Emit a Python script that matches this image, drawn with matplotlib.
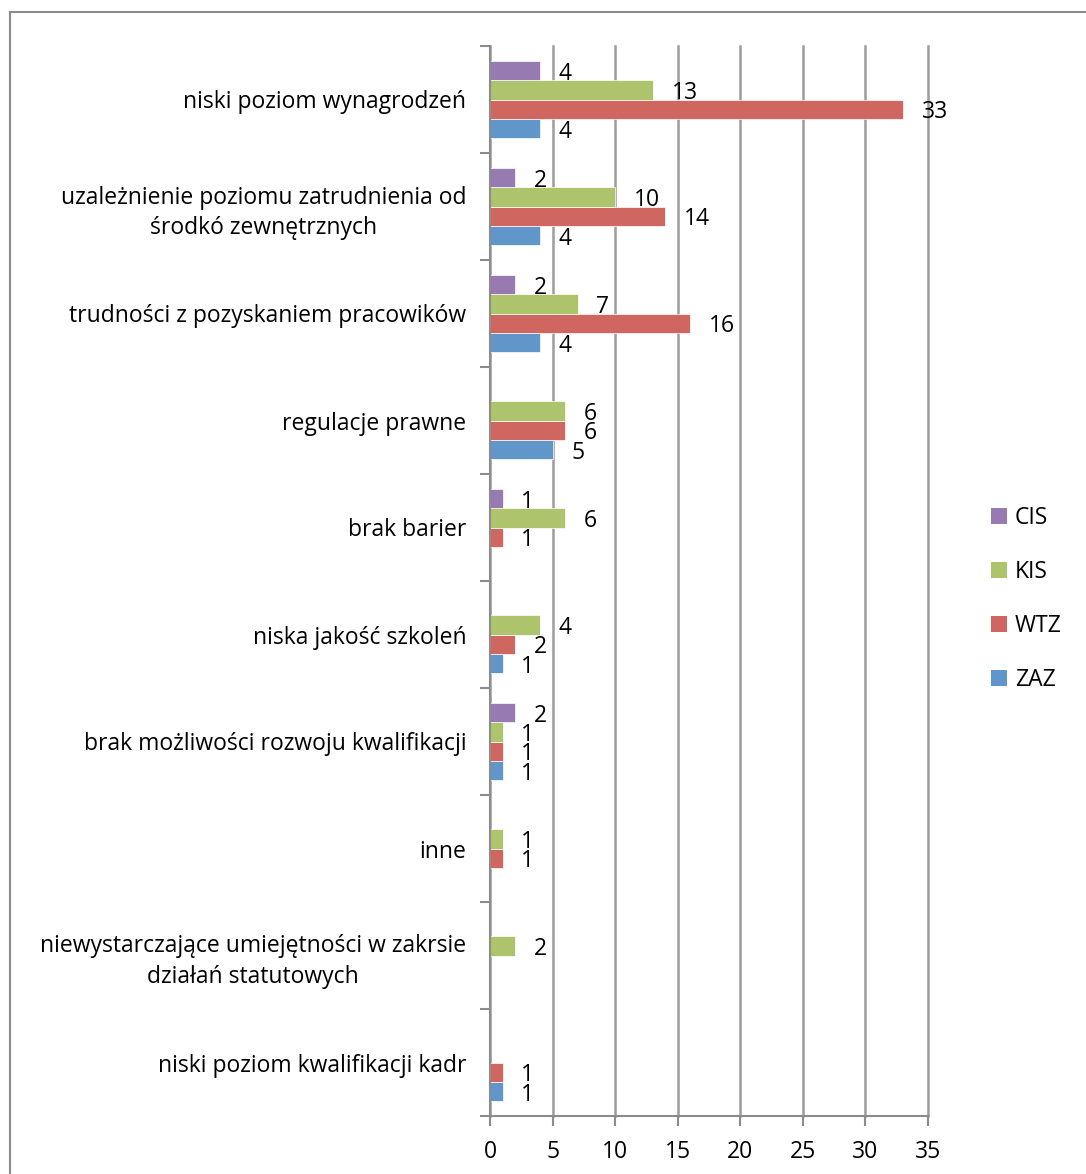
import numpy as np
import matplotlib
matplotlib.use("Agg")
import matplotlib.pyplot as plt
from matplotlib.patches import Rectangle, Patch

categories = [
    "niski poziom wynagrodzeń",
    "uzależnienie poziomu zatrudnienia od\nśrodkó zewnętrznych",
    "trudności z pozyskaniem pracowików",
    "regulacje prawne",
    "brak barier",
    "niska jakość szkoleń",
    "brak możliwości rozwoju kwalifikacji",
    "inne",
    "niewystarczające umiejętności w zakrsie\ndziałań statutowych",
    "niski poziom kwalifikacji kadr",
]
nan = np.nan
CIS = [4, 2, 2, nan, 1, nan, 2, nan, nan, nan]
KIS = [13, 10, 7, 6, 6, 4, 1, 1, 2, nan]
WTZ = [33, 14, 16, 6, 1, 2, 1, 1, nan, 1]
ZAZ = [4, 4, 4, 5, nan, 1, 1, nan, nan, 1]
series_names = ["ZAZ", "WTZ", "KIS", "CIS"]
series_values = [ZAZ, WTZ, KIS, CIS]
colors = {"ZAZ": "#6096c9", "WTZ": "#cf6660", "KIS": "#adc46c", "CIS": "#967ab1"}
xticks = [0, 5, 10, 15, 20, 25, 30, 35]

plt.rcParams['font.family'] = ['Open Sans', 'DejaVu Sans']
FS = 16.5

fig = plt.figure(figsize=(10.86, 11.74), dpi=100)
# outer border
fig.patches.append(Rectangle((10/1086, -0.01), 1.1, (1174-12)/1174 + 0.01,
                             transform=fig.transFigure, fill=False,
                             edgecolor="#8c8c8c", linewidth=1.5))

ax = fig.add_axes([490/1086, 58/1174, 438/1086, 1070/1174])
n = len(categories)
bh = 0.18
ypos = np.arange(n)
for k, (name, vals) in enumerate(zip(series_names, series_values)):
    offs = (1.5 - k) * bh  # ZAZ bottom (larger y after inversion)
    v = np.array(vals, dtype=float)
    ax.barh(ypos + offs, np.nan_to_num(v, nan=0.0), height=bh, color=colors[name],
            edgecolor="white", linewidth=0.5, zorder=3)
    for i, val in enumerate(v):
        if not np.isnan(val):
            ax.text(val + 1.5, ypos[i] + offs + 0.03, f"{int(val)}", ha="left", va="center",
                    fontsize=FS, color="black", zorder=4)

ax.set_xlim(0, 35)
ax.set_ylim(n - 0.5, -0.5)
ax.set_xticks(xticks)
ax.set_xticklabels([str(t) for t in xticks], fontsize=FS)
ax.set_yticks(ypos)
ax.set_yticklabels(categories, fontsize=FS, multialignment="center", linespacing=1.35)
ax.set_yticks(np.arange(n + 1) - 0.5, minor=True)
ax.tick_params(axis="y", which="major", length=0, pad=17)
ax.tick_params(axis="y", which="minor", length=7, width=1.5, color="#8c8c8c", direction="out")
ax.tick_params(axis="x", length=7, width=1.5, color="#8c8c8c", direction="out", pad=10)
ax.grid(axis="x", color="#9c9c9c", linewidth=1.8, zorder=0)
for gl in ax.get_xgridlines():
    gl.set_clip_on(False)
for s in ["top", "right"]:
    ax.spines[s].set_visible(False)
for s in ["left", "bottom"]:
    ax.spines[s].set_color("#8c8c8c")
    ax.spines[s].set_linewidth(1.5)
    ax.spines[s].set_zorder(5)

handles = [Patch(facecolor=colors[nm], edgecolor="none", label=nm) for nm in ["CIS", "KIS", "WTZ", "ZAZ"]]
fig.legend(handles=handles, loc="center left", bbox_to_anchor=(970/1086, (1174-599)/1174),
           frameon=False, fontsize=FS, handlelength=0.7, handleheight=0.7,
           handletextpad=0.35, labelspacing=1.32)

fig.savefig("out.png", dpi=100)
